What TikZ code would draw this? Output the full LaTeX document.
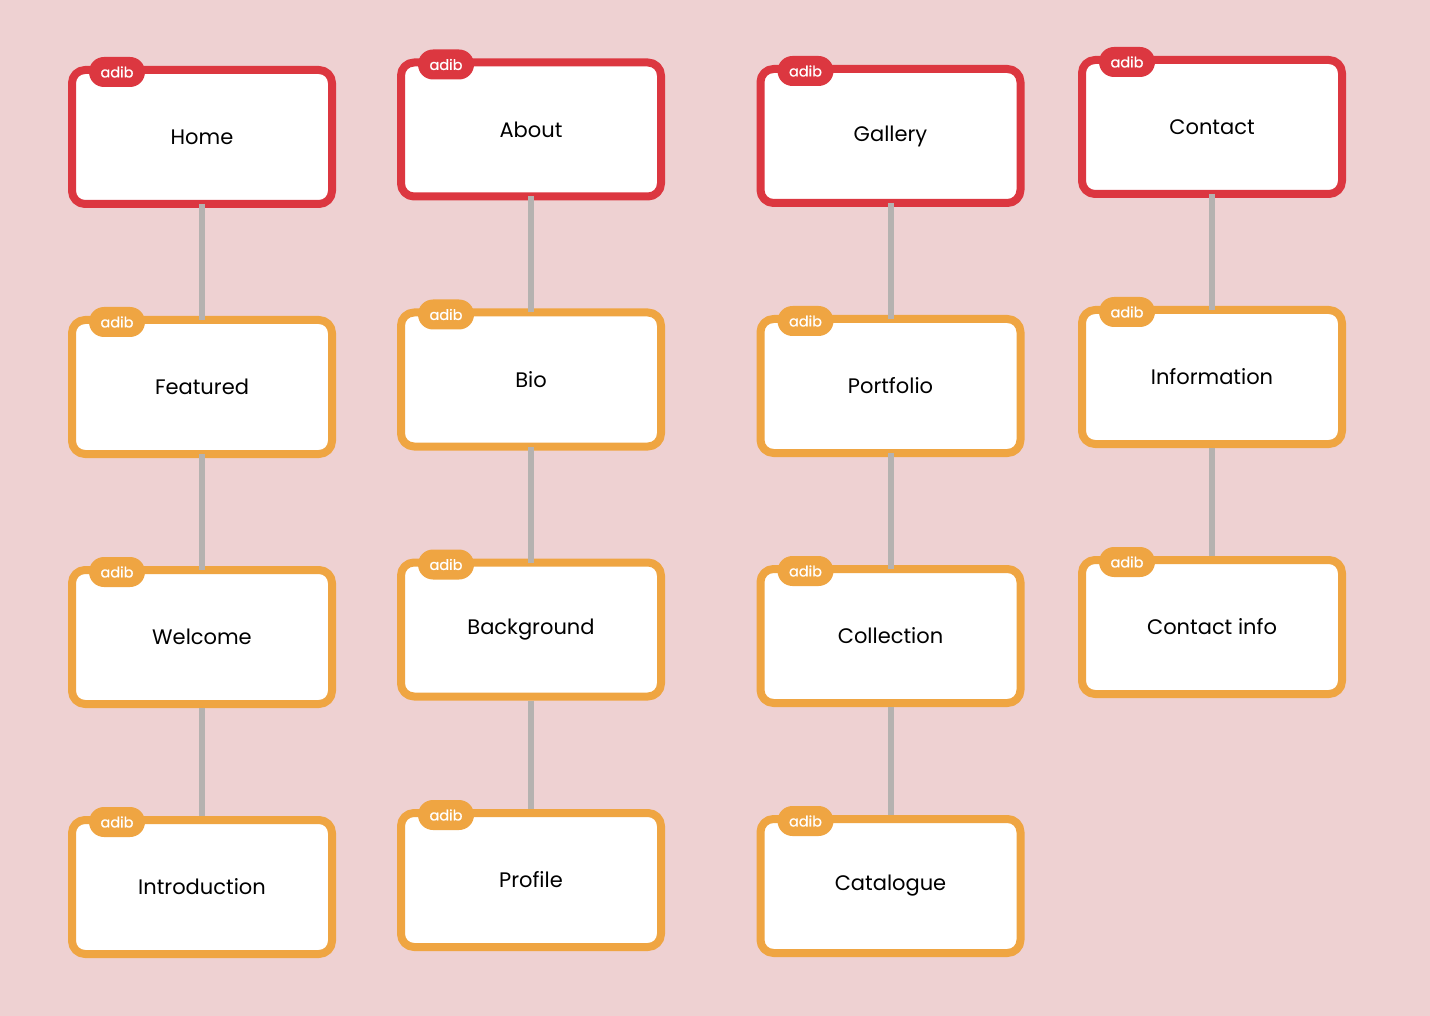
\documentclass[tikz,border=0pt]{standalone}
\usepackage{fontspec}
\setmainfont{Poppins}
\newfontfamily\tagfont[FakeBold=0.6]{Poppins}
\definecolor{bgpink}{HTML}{EED1D2}
\definecolor{tagred}{HTML}{DC3740}
\definecolor{tagorange}{HTML}{EFA542}
\definecolor{linkgray}{HTML}{B5B2B0}
\tikzset{
  page/.style={draw, line width=8pt, rounded corners=13pt, fill=white, minimum width=260pt, minimum height=134pt, outer sep=0pt, inner sep=0pt, font=\fontsize{21}{25}\selectfont},
  rootpage/.style={page, draw=tagred},
  subpage/.style={page, draw=tagorange},
  tag/.style={rounded corners=15pt, minimum width=56pt, minimum height=30pt, inner sep=0pt, outer sep=0pt, text=white, font=\tagfont\fontsize{14.5}{16}\selectfont},
  link/.style={draw=linkgray, line width=6pt, shorten >=4pt, shorten <=4pt},
}
\begin{document}
\begin{tikzpicture}[x=1pt, y=-1pt, line join=round]
  \fill[bgpink] (0,0) rectangle (1430,1016);
  \useasboundingbox (0,0) rectangle (1430,1016);
  % first column
  \node[rootpage] (home) at (202,137) {Home};
  \node[subpage] (featured) at (202,387) {Featured};
  \node[subpage] (welcome) at (202,637) {Welcome};
  \node[subpage] (intro) at (202,887) {Introduction};
  % second column
  \node[rootpage] (about) at (531,129.5) {About};
  \node[subpage] (bio) at (531,379.5) {Bio};
  \node[subpage] (background) at (531,629.5) {Background};
  \node[subpage] (profile) at (531,880) {Profile};
  % third column
  \node[rootpage] (gallery) at (890.5,136) {Gallery};
  \node[subpage] (portfolio) at (890.5,386) {Portfolio};
  \node[subpage] (collection) at (890.5,636) {Collection};
  \node[subpage] (catalogue) at (890.5,886) {Catalogue};
  % fourth column
  \node[rootpage] (contact) at (1212,127) {Contact};
  \node[subpage] (information) at (1212,377) {Information};
  \node[subpage] (contactinfo) at (1212,627) {Contact info};
  % links
  \draw[link] (home.south)--(featured.north) (featured.south)--(welcome.north) (welcome.south)--(intro.north);
  \draw[link] (about.south)--(bio.north) (bio.south)--(background.north) (background.south)--(profile.north);
  \draw[link] (gallery.south)--(portfolio.north) (portfolio.south)--(collection.north) (collection.south)--(catalogue.north);
  \draw[link] (contact.south)--(information.north) (information.south)--(contactinfo.north);
  % tags
  \node[tag, fill=tagred] (hometag) at ([xshift=45pt, yshift=-2pt]home.north west) {adib};
  \node[tag, fill=tagorange] (featuredtag) at ([xshift=45pt, yshift=-2pt]featured.north west) {adib};
  \node[tag, fill=tagorange] (welcometag) at ([xshift=45pt, yshift=-2pt]welcome.north west) {adib};
  \node[tag, fill=tagorange] (introtag) at ([xshift=45pt, yshift=-2pt]intro.north west) {adib};
  \node[tag, fill=tagred] (abouttag) at ([xshift=45pt, yshift=-2pt]about.north west) {adib};
  \node[tag, fill=tagorange] (biotag) at ([xshift=45pt, yshift=-2pt]bio.north west) {adib};
  \node[tag, fill=tagorange] (backgroundtag) at ([xshift=45pt, yshift=-2pt]background.north west) {adib};
  \node[tag, fill=tagorange] (profiletag) at ([xshift=45pt, yshift=-2pt]profile.north west) {adib};
  \node[tag, fill=tagred] (gallerytag) at ([xshift=45pt, yshift=-2pt]gallery.north west) {adib};
  \node[tag, fill=tagorange] (portfoliotag) at ([xshift=45pt, yshift=-2pt]portfolio.north west) {adib};
  \node[tag, fill=tagorange] (collectiontag) at ([xshift=45pt, yshift=-2pt]collection.north west) {adib};
  \node[tag, fill=tagorange] (cataloguetag) at ([xshift=45pt, yshift=-2pt]catalogue.north west) {adib};
  \node[tag, fill=tagred] (contacttag) at ([xshift=45pt, yshift=-2pt]contact.north west) {adib};
  \node[tag, fill=tagorange] (informationtag) at ([xshift=45pt, yshift=-2pt]information.north west) {adib};
  \node[tag, fill=tagorange] (contactinfotag) at ([xshift=45pt, yshift=-2pt]contactinfo.north west) {adib};
\end{tikzpicture}
\end{document}
